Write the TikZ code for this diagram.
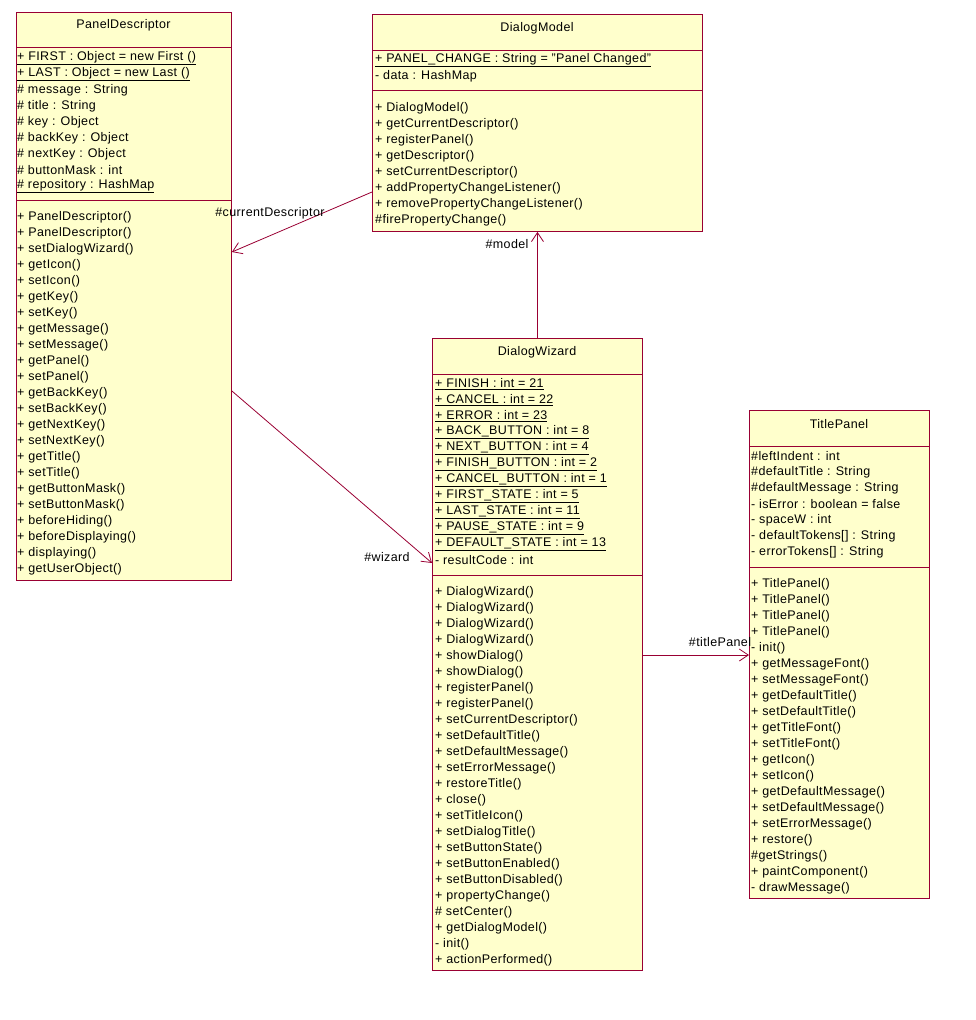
\documentclass[tikz,border=0pt]{standalone}
\usepackage{fontspec}
\setmainfont{Liberation Sans}[LetterSpace=3]
\usetikzlibrary{arrows.meta, calc}
\definecolor{umlred}{RGB}{153,0,51}
\definecolor{umlfill}{RGB}{255,255,204}

\begin{document}
\begin{tikzpicture}[x=1pt, y=-1pt,
  umlbox/.style={draw=umlred, fill=umlfill, line width=0.9pt, inner sep=0, anchor=north west},
  member/.style={anchor=west, inner sep=0, font=\fontsize{12.5}{14}\selectfont},
  classname/.style={inner sep=0, font=\fontsize{12.5}{14}\selectfont},
  assoc/.style={draw=umlred, line width=0.8pt, -{Straight Barb[length=9pt, width=12pt]}},
  role/.style={inner sep=0, font=\fontsize{12.5}{14}\selectfont}]
\useasboundingbox (0,0) rectangle (976,1020);

% PanelDescriptor
\node[umlbox, minimum width=215, minimum height=568] (pd) at (16,12) {};
\node[classname] (pdname) at (123.5,25) {PanelDescriptor};
\draw[umlred, line width=0.9pt] (pd.west |- 0,47) -- (pd.east |- 0,47);
\draw[umlred, line width=0.9pt] (pd.west |- 0,200) -- (pd.east |- 0,200);
\foreach \t [count=\i from 0] in {\underline{+ FIRST : Object = new First ()},
  \underline{+ LAST : Object = new Last ()}, \# message : String, \# title : String,
  \# key : Object, \# backKey : Object, \# nextKey : Object, \# buttonMask : int,
  \underline{\# repository : HashMap}}
  \node[member] (pda\i) at (17,58+16*\i) {\t};
\foreach \t [count=\i from 0] in {PanelDescriptor(), PanelDescriptor(), setDialogWizard(),
  getIcon(), setIcon(), getKey(), setKey(), getMessage(), setMessage(), getPanel(),
  setPanel(), getBackKey(), setBackKey(), getNextKey(), setNextKey(), getTitle(),
  setTitle(), getButtonMask(), setButtonMask(), beforeHiding(), beforeDisplaying(),
  displaying(), getUserObject()}
  \node[member] (pdm\i) at (17,217+16*\i) {+ \t};

% DialogModel
\node[umlbox, minimum width=330, minimum height=217] (dm) at (372,14) {};
\node[classname] (dmname) at (537,28) {DialogModel};
\draw[umlred, line width=0.9pt] (dm.west |- 0,50) -- (dm.east |- 0,50);
\draw[umlred, line width=0.9pt] (dm.west |- 0,90) -- (dm.east |- 0,90);
\node[member] (dma0) at (375,60) {\underline{+ PANEL\_CHANGE : String = "Panel Changed"}};
\node[member] (dma1) at (375,76) {- data : HashMap};
\foreach \t [count=\i from 0] in {+ DialogModel(), + getCurrentDescriptor(),
  + registerPanel(), + getDescriptor(), + setCurrentDescriptor(),
  + addPropertyChangeListener(), + removePropertyChangeListener(),
  \#firePropertyChange()}
  \node[member] (dmm\i) at (375,108+16*\i) {\t};

% DialogWizard
\node[umlbox, minimum width=210, minimum height=632] (dw) at (432,338) {};
\node[classname] (dwname) at (537,352) {DialogWizard};
\draw[umlred, line width=0.9pt] (dw.west |- 0,374) -- (dw.east |- 0,374);
\draw[umlred, line width=0.9pt] (dw.west |- 0,575) -- (dw.east |- 0,575);
\foreach \t [count=\i from 0] in {FINISH : int = 21, CANCEL : int = 22, ERROR : int = 23,
  BACK\_BUTTON : int = 8, NEXT\_BUTTON : int = 4, FINISH\_BUTTON : int = 2,
  CANCEL\_BUTTON : int = 1, FIRST\_STATE : int = 5, LAST\_STATE : int = 11,
  PAUSE\_STATE : int = 9, DEFAULT\_STATE : int = 13}
  \node[member] (dwa\i) at (435,384+16*\i) {\underline{+ \t}};
\node[member] (dwa11) at (435,560) {- resultCode : int};
\foreach \t [count=\i from 0] in {+ DialogWizard(), + DialogWizard(), + DialogWizard(),
  + DialogWizard(), + showDialog(), + showDialog(), + registerPanel(), + registerPanel(),
  + setCurrentDescriptor(), + setDefaultTitle(), + setDefaultMessage(),
  + setErrorMessage(), + restoreTitle(), + close(), + setTitleIcon(), + setDialogTitle(),
  + setButtonState(), + setButtonEnabled(), + setButtonDisabled(), + propertyChange(),
  \# setCenter(), + getDialogModel(), - init(), + actionPerformed()}
  \node[member] (dwm\i) at (435,592+16*\i) {\t};

% TitlePanel
\node[umlbox, minimum width=180, minimum height=488] (tp) at (749,410) {};
\node[classname] (tpname) at (839,424) {TitlePanel};
\draw[umlred, line width=0.9pt] (tp.west |- 0,446) -- (tp.east |- 0,446);
\draw[umlred, line width=0.9pt] (tp.west |- 0,567) -- (tp.east |- 0,567);
\foreach \t [count=\i from 0] in {\#leftIndent : int, \#defaultTitle : String,
  \#defaultMessage : String, - isError : boolean = false, - spaceW : int,
  - defaultTokens[] : String, - errorTokens[] : String}
  \node[member] (tpa\i) at (751,456+16*\i) {\t};
\foreach \t [count=\i from 0] in {+ TitlePanel(), + TitlePanel(), + TitlePanel(),
  + TitlePanel(), - init(), + getMessageFont(), + setMessageFont(), + getDefaultTitle(),
  + setDefaultTitle(), + getTitleFont(), + setTitleFont(), + getIcon(), + setIcon(),
  + getDefaultMessage(), + setDefaultMessage(), + setErrorMessage(), + restore(),
  \#getStrings(), + paintComponent(), - drawMessage()}
  \node[member] (tpm\i) at (751,584+16*\i) {\t};

% associations
\draw[assoc] (dm.west |- 0,192) -- (pd.east |- 0,252);
\node[role] (rcur) at (270,213) {\#currentDescriptor};
\draw[assoc] (dw.north) -- (dm.south);
\node[role] (rmodel) at (507,244) {\#model};
\draw[assoc] (pd.east |- 0,391) -- (dw.west |- 0,563);
\node[role] (rwiz) at (387,557) {\#wizard};
\draw[assoc] (dw.east |- 0,655) -- (tp.west |- 0,655);
\node[role] (rtitle) at (720,642) {\#titlePanel};
\end{tikzpicture}
\end{document}
